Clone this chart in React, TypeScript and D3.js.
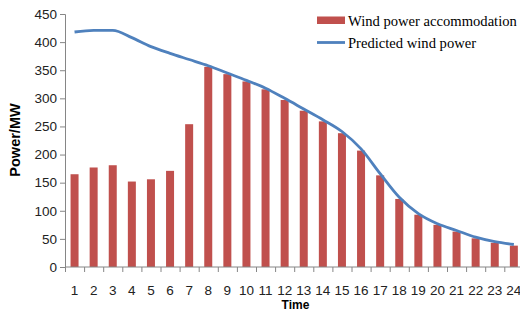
import { useRef, useEffect } from "react";
import * as d3 from "d3";

// ─── Data ─────────────────────────────────────────────────────────────────────

const hours = d3.range(1, 25).map(String);
const accommodation = [165, 177, 181, 152, 156, 171, 254, 356, 343, 330, 316, 297, 278, 259, 238, 207, 163, 121, 93, 75, 63, 51, 43, 38];
const predicted = [418, 421, 421, 408, 392, 380, 369, 358, 345, 332, 318, 300, 281, 262, 241, 210, 166, 124, 95, 77, 65, 53, 45, 40];
const yTicks = [0, 50, 100, 150, 200, 250, 300, 350, 400, 450];

const W = 520;
const H = 311;
const PLOT = { left: 65, right: 523.4, top: 14, bottom: 267 };
const BAR_COLOR = "#C0504D";
const LINE_COLOR = "#4F81BD";
const AXIS_COLOR = "#868686";
const TICK_FONT = "'Liberation Sans', Arial, sans-serif";

export default function App() {
  const svgRef = useRef<SVGSVGElement>(null);

  useEffect(() => {
    if (!svgRef.current) return;
    document.body.style.margin = "0";

    const svg = d3.select(svgRef.current);
    svg.selectAll("*").remove();

    // ── Scales ──────────────────────────────────────────────────────────────
    const x = d3.scaleBand().domain(hours).range([PLOT.left, PLOT.right]);
    const y = d3.scaleLinear().domain([0, 450]).range([PLOT.bottom, PLOT.top]);

    // ── Bars ─────────────────────────────────────────────────────────────────
    const barW = 8;
    svg.append("g")
      .selectAll("rect")
      .data(accommodation)
      .join("rect")
      .attr("x", (_, i) => x(hours[i])! + x.bandwidth() / 2 - barW / 2)
      .attr("y", (d) => y(d))
      .attr("width", barW)
      .attr("height", (d) => y(0) - y(d))
      .attr("fill", BAR_COLOR);

    // ── Axes ─────────────────────────────────────────────────────────────────
    const yAxis = svg.append("g")
      .attr("transform", `translate(${PLOT.left},0)`)
      .call(d3.axisLeft(y).tickValues(yTicks).tickSize(5).tickPadding(3));
    yAxis.select(".domain").attr("stroke", AXIS_COLOR);
    yAxis.selectAll("line").attr("stroke", AXIS_COLOR);
    yAxis.selectAll("text")
      .attr("fill", "#222")
      .attr("font-family", TICK_FONT)
      .attr("font-size", 13.5);

    const xAxis = svg.append("g").attr("transform", `translate(0,${PLOT.bottom})`);
    xAxis.append("line")
      .attr("x1", PLOT.left).attr("x2", PLOT.right)
      .attr("stroke", AXIS_COLOR);
    xAxis.selectAll(".tk")
      .data(hours)
      .join("line")
      .attr("class", "tk")
      .attr("x1", (d) => x(d)! + 0.5)
      .attr("x2", (d) => x(d)! + 0.5)
      .attr("y2", 5)
      .attr("stroke", AXIS_COLOR);
    xAxis.selectAll(".lbl")
      .data(hours)
      .join("text")
      .attr("class", "lbl")
      .attr("x", (d) => x(d)! + x.bandwidth() / 2)
      .attr("y", 27.5)
      .attr("text-anchor", "middle")
      .attr("fill", "#222")
      .attr("font-family", TICK_FONT)
      .attr("font-size", 13.5)
      .text((d) => d);

    // ── Line ─────────────────────────────────────────────────────────────────
    const line = d3.line<number>()
      .x((_, i) => x(hours[i])! + x.bandwidth() / 2)
      .y((d) => y(d))
      .curve(d3.curveMonotoneX);
    svg.append("path")
      .datum(predicted)
      .attr("d", line)
      .attr("fill", "none")
      .attr("stroke", LINE_COLOR)
      .attr("stroke-width", 2.8)
      .attr("stroke-linejoin", "round");

    // ── Axis titles ─────────────────────────────────────────────────────────
    svg.append("text")
      .attr("transform", "translate(20,140) rotate(-90)")
      .attr("text-anchor", "middle")
      .attr("font-family", TICK_FONT)
      .attr("font-weight", "bold")
      .attr("font-size", 14.5)
      .attr("fill", "#000")
      .text("Power/MW");

    svg.append("text")
      .attr("x", 295.5)
      .attr("y", 308.5)
      .attr("text-anchor", "middle")
      .attr("font-family", TICK_FONT)
      .attr("font-weight", "bold")
      .attr("font-size", 12)
      .attr("fill", "#000")
      .text("Time");

    // ── Legend ───────────────────────────────────────────────────────────────
    const legend = svg.append("g").attr("font-family", "'Liberation Serif', 'Times New Roman', serif")
      .attr("font-size", 14.6)
      .attr("fill", "#000");
    legend.append("rect")
      .attr("x", 317).attr("y", 16.5).attr("width", 28).attr("height", 7.5)
      .attr("fill", BAR_COLOR);
    legend.append("text").attr("x", 348).attr("y", 25.5).text("Wind power accommodation");
    legend.append("line")
      .attr("x1", 317).attr("x2", 345).attr("y1", 42.5).attr("y2", 42.5)
      .attr("stroke", LINE_COLOR).attr("stroke-width", 2.8);
    legend.append("text").attr("x", 348).attr("y", 47.5).text("Predicted wind power");
  }, []);

  return (
    <svg
      ref={svgRef}
      width={W}
      height={H}
      style={{ position: "absolute", left: 0, top: 0, background: "#fff" }}
    />
  );
}
